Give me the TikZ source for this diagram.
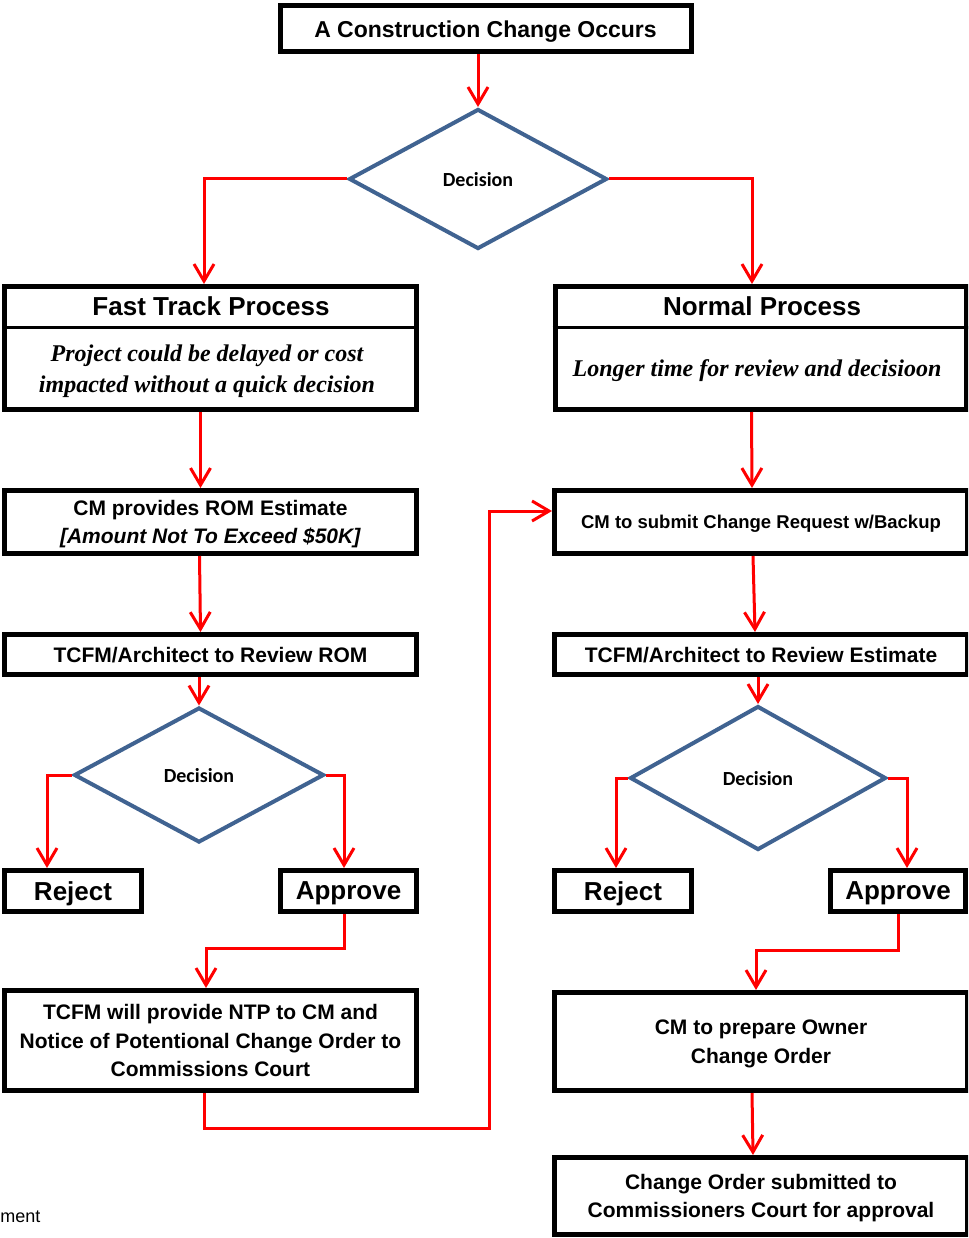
\documentclass[tikz,border=0pt]{standalone}
\usepackage{fontspec}
\setmainfont{Liberation Sans}
\newfontfamily\timesbi{Liberation Serif}
\newfontfamily\calibri{Carlito}
\usetikzlibrary{arrows.meta,positioning,shapes.geometric}
\definecolor{diablue}{RGB}{64,99,145}

\begin{document}
\begin{tikzpicture}[x=1pt, y=-1pt,
    box/.style={draw=black, line width=5pt, fill=white, inner sep=0pt, align=center,
        text depth=0pt, font=\bfseries\fontsize{21}{28.5}\selectfont},
    bigtext/.style={font=\bfseries\fontsize{26}{30}\selectfont},
    note/.style={align=center, font=\timesbi\bfseries\itshape\fontsize{24}{31}\selectfont},
    decide/.style={diamond, draw=diablue, line width=4pt, fill=white, inner sep=0pt,
        text depth=0pt, font=\calibri\bfseries\fontsize{20}{24}\selectfont},
    flow/.style={red, line width=3pt, -{Straight Barb[length=17pt,width=20pt]}}]
    \useasboundingbox (0,0) rectangle (968,1238);
    \clip (0,0) rectangle (968,1238);

    % Top
    \node[box, minimum width=411pt, minimum height=46pt, font=\bfseries\fontsize{23}{28}\selectfont]
        (start) at (485.5,28.8) {A Construction Change Occurs};
    \node[decide, minimum width=258pt, minimum height=140pt] (dec1) at (478,179) {Decision};

    % Process boxes
    \node[box, minimum width=412pt, minimum height=123pt] (fast) at (210.5,348) {};
    \node[bigtext] (fasttitle) at (211,306) {Fast Track Process};
    \node[note] (fastnote) at (207,371) {Project could be delayed or cost\\impacted without a quick decision};
    \draw[line width=3pt] (fast.west |- 0,327) -- (fast.east |- 0,327);

    \node[box, minimum width=411pt, minimum height=123pt] (normal) at (760.5,348) {};
    \node[bigtext] (normaltitle) at (762,306) {Normal Process};
    \node[note] (normalnote) at (757,371) {Longer time for review and decisioon};
    \draw[line width=3pt] (normal.west |- 0,327) -- (normal.east |- 0,327);

    % Fast track side
    \node[box, minimum width=412pt, minimum height=63pt] (rom) at (210.5,522)
        {CM provides ROM Estimate\\\textit{[Amount Not To Exceed \$50K]}};
    \node[box, minimum width=412pt, minimum height=40pt] (tcrom) at (210.5,654.5)
        {TCFM/Architect to Review ROM};
    \node[decide, minimum width=250pt, minimum height=135pt] (dec2) at (199,775) {Decision};
    \node[box, bigtext, minimum width=137pt, minimum height=41pt] (rejL) at (73,891) {Reject};
    \node[box, bigtext, minimum width=136pt, minimum height=41pt] (appL) at (348.5,891) {Approve};
    \node[box, minimum width=412pt, minimum height=100pt] (ntp) at (210.5,1040.5)
        {TCFM will provide NTP to CM and\\Notice of Potentional Change Order to\\Commissions Court};

    % Normal side
    \node[box, minimum width=413pt, minimum height=63pt, font=\bfseries\fontsize{18.5}{24}\selectfont]
        (submit) at (761,522) {CM to submit Change Request w/Backup};
    \node[box, minimum width=413pt, minimum height=40pt] (tcest) at (761,654.5)
        {TCFM/Architect to Review Estimate};
    \node[decide, minimum width=256pt, minimum height=144pt] (dec3) at (758,778) {Decision};
    \node[box, bigtext, minimum width=137pt, minimum height=41pt] (rejR) at (623,891) {Reject};
    \node[box, bigtext, minimum width=135pt, minimum height=41pt] (appR) at (898,891) {Approve};
    \node[box, minimum width=413pt, minimum height=98pt] (owner) at (761,1041.5)
        {CM to prepare Owner\\Change Order};
    \node[box, minimum width=413pt, minimum height=77pt] (final) at (761,1196)
        {Change Order submitted to\\Commissioners Court for approval};

    \node[anchor=east, font=\fontsize{18}{22}\selectfont] (frag) at (44,1217) {ment};

    % Connectors
    \draw[flow] (dec1.north |- start.south) -- (dec1.north);
    \draw[flow] (dec1.west) -| ([xshift=-6.5]fast.north);
    \draw[flow] (dec1.east) -| ([xshift=-8.5]normal.north);

    \draw[flow] ([xshift=-10]fast.south) -- ([xshift=-10]rom.north);
    \draw[flow] ([xshift=-11]rom.south) -- ([xshift=-10]tcrom.north);
    \draw[flow] (dec2.north |- tcrom.south) -- (dec2.north);
    \draw[flow] (dec2.west) -| ([xshift=-26]rejL.north);
    \draw[flow] (dec2.east) -| ([xshift=-4.5]appL.north);
    \draw[flow] ([xshift=-4.5]appL.south) -- ++(0,34) -| ([xshift=-4.5]ntp.north);
    \coordinate (back) at (489,1128);
    \draw[flow] ([xshift=-6.5]ntp.south) |- (back) |- ([yshift=11]submit.west);

    \draw[flow] ([xshift=-9]normal.south) -- ([xshift=-9]submit.north);
    \draw[flow] ([xshift=-8]submit.south) -- ([xshift=-6]tcest.north);
    \draw[flow] (dec3.north |- tcest.south) -- (dec3.north);
    \draw[flow] (dec3.west) -| ([xshift=-7]rejR.north);
    \draw[flow] (dec3.east) -| ([xshift=9]appR.north);
    \draw[flow] (appR.south) -- ++(0,36) -| ([xshift=-5]owner.north);
    \draw[flow] ([xshift=-9]owner.south) -- ([xshift=-8]final.north);
\end{tikzpicture}
\end{document}
